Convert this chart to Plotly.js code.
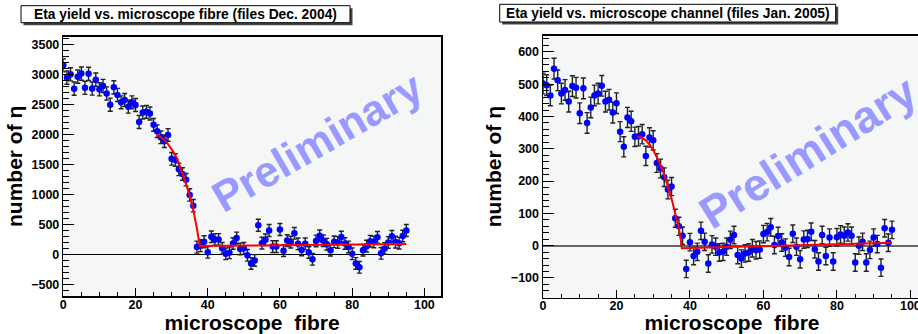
<!DOCTYPE html>
<html><head><meta charset="utf-8">
<script src="https://cdn.plot.ly/plotly-3.0.1.min.js"></script>
<style>html,body{margin:0;padding:0;overflow:hidden;background:#fff;}#chart{width:930px;height:334px;}</style>
</head><body><div id="chart"></div>
<script>
// ---- Data ----
const fibreLeft = [0,1,2,3,4,5,6,7,8,9,10,11,12,13,14,15,16,17,18,19,20,21,22,23,24,25,26,27,28,29,30,31,32,33,34,35,36,37,38,39,40,41,42,43,44,45,46,47,48,49,50,51,52,53,54,55,56,57,58,59,60,61,62,63,64,65,66,67,68,69,70,71,72,73,74,75,76,77,78,79,80,81,82,83,84,85,86,87,88,89,90,91,92,93,94,95];
const yieldLeft = [3150,2945,3000,2761,2961,3012,2775,3008,2763,2911,2750,2805,2680,2494,2783,2656,2533,2572,2461,2533,2488,2205,2364,2375,2346,2158,2052,1950,1886,1990,1592,1572,1416,1339,1244,990,810,120,144,210,33,291,247,247,100,8,25,180,272,89,100,-17,-153,-103,485,186,241,396,128,128,413,61,228,203,350,175,72,175,30,-84,222,308,225,169,69,208,197,288,180,122,8,-153,-217,69,136,219,205,283,17,97,197,300,203,185,305,397];
const errLeft = [110,110,110,110,110,110,110,110,110,110,110,110,110,110,110,110,108,108,108,108,108,108,108,108,108,106,105,105,105,105,105,104,104,104,104,103,103,100,100,100,97,97,97,97,97,97,97,97,97,97,97,97,97,97,100,97,97,100,97,97,100,97,97,97,97,97,97,97,97,97,97,97,97,97,97,97,97,97,97,97,97,97,97,97,97,97,97,97,97,97,97,97,97,97,97,100];
const fitLeftX = [25.9,27,28,29,30,31,32,33,34,35,36,37,37.5,37.8,95];
const fitLeftY = [2005,1960,1905,1835,1755,1660,1515,1355,1170,975,740,430,235,140,172];

const fibreRight = fibreLeft;
const yieldRight = [502,497,465,548,512,471,482,446,494,489,410,487,380,428,465,471,495,446,452,412,441,353,306,397,385,337,339,345,278,335,326,256,239,212,174,183,85,60,31,-72,11,-32,-19,46,12,-55,4,-3,-21,-19,-3,18,33,-29,-40,-24,-21,-8,-14,-12,36,42,57,2,30,10,-6,-35,37,-3,-42,19,21,43,-11,-49,33,-32,25,-49,26,35,31,41,31,-52,0,12,-52,-13,25,5,-68,54,9,49];
const errRight = [32,32,32,32,32,32,32,32,32,32,32,32,32,32,32,32,32,32,32,32,32,31,31,31,31,30,30,30,30,30,30,29,29,29,29,28,28,28,27,27,27,27,27,27,27,27,27,27,27,27,27,27,27,27,27,27,27,27,27,27,27,27,27,27,27,27,27,27,27,27,27,27,27,27,27,27,27,27,27,27,27,27,27,27,27,27,27,27,27,27,27,27,27,27,27,27];
const fitRightX = [25.7,27,28,29,30,31,32,33,34,35,36,37,37.3,37.8,95];
const fitRightY = [338,334,326,313,296,275,250,220,185,145,100,52,36,-8,9];

const titleLeft = "Eta yield vs. microscope fibre (files Dec. 2004)";
const titleRight = "Eta yield vs. microscope channel (files Jan. 2005)";
const xTitle = "microscope\u00A0\u00A0fibre";
const yTitle = "number of \u03B7";
const watermark = "Preliminary";

// ---- Layout helpers ----
const W = 930, H = 334;
const px = v => v / W;
const py = v => 1 - v / H;
const FONT = "Liberation Sans, Arial, Helvetica, sans-serif";

function xAxis(domain, range, anchor) {
  return {
    domain: domain, range: range, anchor: anchor,
    tickmode: 'linear', tick0: 0, dtick: 20,
    ticks: 'inside', ticklen: 8, tickwidth: 1, tickcolor: '#000',
    minor: {dtick: 5, ticks: 'inside', ticklen: 4, tickwidth: 1, tickcolor: '#000'},
    showline: true, linecolor: '#000', linewidth: 1.5, mirror: true,
    showgrid: false, zeroline: false,
    ticklabelstandoff: -4,
    tickfont: {family: FONT, size: 12.5, color: '#000', weight: 700},
    title: {text: xTitle, font: {family: FONT, size: 21, color: '#000', weight: 700}, standoff: 0}
  };
}
function yAxis(domain, range, anchor, dtick, minorDtick, zc, zw) {
  return {
    domain: domain, range: range, anchor: anchor,
    tickmode: 'linear', tick0: 0, dtick: dtick,
    ticks: 'inside', ticklen: 11, tickwidth: 1, tickcolor: '#000',
    minor: {dtick: minorDtick, ticks: 'inside', ticklen: 6, tickwidth: 1, tickcolor: '#000'},
    showline: true, linecolor: '#000', linewidth: 1.5, mirror: true,
    showgrid: false, zeroline: true, zerolinecolor: zc, zerolinewidth: zw,
    tickfont: {family: FONT, size: 12.5, color: '#000', weight: 700},
    title: {text: yTitle, font: {family: FONT, size: 21, color: '#000', weight: 700}, standoff: 3}
  };
}

const pointStyle = {color: '#0000ff', size: 6.5};
const errStyle = (arr) => ({type: 'data', array: arr, visible: true, color: '#222', thickness: 1.4, width: 2.5});

const traces = [
  {x: fibreLeft, y: yieldLeft, error_y: errStyle(errLeft), mode: 'markers', type: 'scatter', marker: pointStyle, xaxis: 'x', yaxis: 'y'},
  {x: fitLeftX, y: fitLeftY, mode: 'lines', type: 'scatter', line: {color: '#ff0000', width: 2}, xaxis: 'x', yaxis: 'y'},
  {x: fibreRight, y: yieldRight, error_y: errStyle(errRight), mode: 'markers', type: 'scatter', marker: pointStyle, xaxis: 'x2', yaxis: 'y2'},
  {x: fitRightX, y: fitRightY, mode: 'lines', type: 'scatter', line: {color: '#ff0000', width: 2}, xaxis: 'x2', yaxis: 'y2'}
];

function box(x0, y0, x1, y1) {
  return [
    {type: 'rect', xref: 'paper', yref: 'paper', x0: px(x0 + 2.5), x1: px(x1 + 2.5), y0: py(y1 + 2.5), y1: py(y0 + 2.5), fillcolor: '#444', line: {width: 0}, layer: 'above'},
    {type: 'rect', xref: 'paper', yref: 'paper', x0: px(x0), x1: px(x1), y0: py(y1), y1: py(y0), fillcolor: '#fff', line: {color: '#000', width: 1}, layer: 'above'}
  ];
}

const layout = {
  width: W, height: H,
  margin: {l: 0, r: 0, t: 0, b: 0},
  paper_bgcolor: '#fff', plot_bgcolor: '#f5f7f7',
  showlegend: false,
  font: {family: FONT, color: '#000'},
  xaxis: xAxis([px(63.3), px(441)], [0, 104.6], 'y'),
  yaxis: yAxis([1 - 296 / H, 1 - 36.7 / H], [-695, 3627], 'x', 500, 100, '#000', 1.2),
  xaxis2: xAxis([px(543), px(921)], [0, 102.9], 'y2'),
  yaxis2: yAxis([1 - 297.7 / H, 1 - 35.7 / H], [-161, 650], 'x2', 100, 20, '#666', 2),
  shapes: [].concat(box(21, 5.7, 350, 22.7), box(499.7, 4.3, 835.7, 22)),
  annotations: [
    {xref: 'paper', yref: 'paper', x: px(185.5), y: py(14.4), text: titleLeft, showarrow: false, xanchor: 'center', yanchor: 'middle', font: {family: FONT, size: 13.8, color: '#000', weight: 700}},
    {xref: 'paper', yref: 'paper', x: px(667.7), y: py(13.4), text: titleRight, showarrow: false, xanchor: 'center', yanchor: 'middle', font: {family: FONT, size: 13.8, color: '#000', weight: 700}},
    {xref: 'paper', yref: 'paper', x: px(317), y: py(142), text: watermark, showarrow: false, textangle: -30, xanchor: 'center', yanchor: 'middle', font: {family: FONT, size: 43, color: 'rgb(153,153,255)', weight: 700}},
    {xref: 'paper', yref: 'paper', x: px(807), y: py(152), text: watermark, showarrow: false, textangle: -32, xanchor: 'center', yanchor: 'middle', font: {family: FONT, size: 45, color: 'rgb(153,153,255)', weight: 700}}
  ]
};

Plotly.newPlot('chart', traces, layout, {displayModeBar: false, staticPlot: true});
</script>
</body></html>
